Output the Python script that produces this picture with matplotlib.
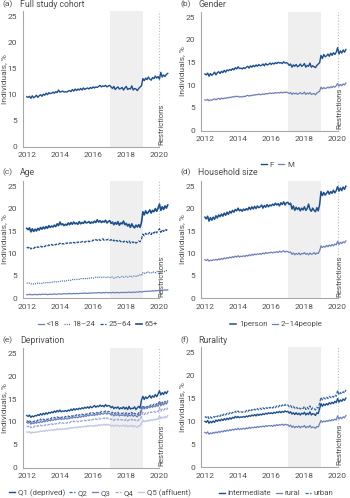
import numpy as np
import matplotlib.pyplot as plt

plt.rcParams['font.family'] = ['Liberation Sans Narrow', 'Roboto', 'DejaVu Sans']

# monthly series, Jan 2012 .. Jul 2020 (one row per year)
cohort = [9.6, 9.5, 9.7, 9.3, 9.8, 9.4, 9.6, 9.9, 9.5, 9.8, 10.0, 9.7,
          10.1, 9.9, 10.3, 10.0, 10.4, 10.2, 10.3, 10.5, 10.3, 10.6, 10.4, 10.9,
          10.5, 10.6, 10.7, 10.5, 10.6, 10.5, 10.7, 10.8, 10.6, 11.0, 10.7, 11.1,
          10.8, 11.1, 10.9, 11.2, 10.9, 11.3, 11.0, 11.2, 11.3, 11.1, 11.4, 11.2,
          11.5, 11.3, 11.5, 11.4, 11.6, 11.8, 11.5, 11.7, 11.6, 11.8, 11.5, 11.7,
          11.8, 11.5, 11.2, 11.6, 11.0, 11.3, 11.5, 11.1, 11.2, 11.4, 10.9, 11.3,
          11.6, 11.0, 11.2, 11.1, 11.7, 10.9, 11.2, 11.1, 10.8, 11.2, 11.5, 11.7,
          13.1, 12.7, 13.2, 12.9, 13.4, 13.0, 12.8, 13.3, 13.1, 13.6, 13.2, 13.5,
          13.0, 14.3, 13.4, 13.8, 13.5, 13.9, 14.1]

female = [12.5, 12.3, 12.7, 12.0, 12.6, 12.2, 12.5, 12.9, 12.3, 12.8, 13.0, 12.6,
          13.1, 12.8, 13.3, 12.9, 13.4, 13.2, 13.5, 13.3, 13.7, 13.4, 13.9, 13.6,
          14.1, 13.7, 13.8, 13.6, 13.9, 13.7, 14.0, 14.2, 13.8, 14.3, 14.0, 14.4,
          14.1, 14.5, 14.2, 14.6, 14.3, 14.4, 14.7, 14.3, 14.8, 14.5, 14.6, 14.9,
          14.6, 14.9, 14.7, 15.0, 14.8, 15.1, 14.9, 15.0, 14.8, 15.2, 14.9, 15.0,
          14.8, 14.4, 14.7, 14.0, 14.5, 14.2, 14.6, 14.1, 14.3, 14.7, 14.2, 14.4,
          14.8, 14.0, 14.4, 14.2, 14.9, 14.0, 14.3, 14.1, 13.9, 14.4, 14.7, 15.0,
          16.6, 15.9, 16.8, 16.3, 16.5, 16.9, 16.4, 17.1, 16.6, 17.2, 16.8, 17.3,
          18.3, 16.9, 17.6, 17.1, 17.8, 17.3, 17.9]

male = [6.8, 6.7, 6.9, 6.6, 6.8, 6.7, 6.9, 7.0, 6.8, 7.0, 7.1, 6.9,
        7.2, 7.0, 7.2, 7.1, 7.3, 7.2, 7.4, 7.3, 7.5, 7.4, 7.6, 7.5,
        7.6, 7.4, 7.5, 7.4, 7.6, 7.5, 7.7, 7.8, 7.6, 7.8, 7.7, 7.9,
        7.8, 8.0, 7.9, 8.1, 7.9, 8.0, 8.1, 8.0, 8.2, 8.1, 8.2, 8.3,
        8.2, 8.3, 8.2, 8.4, 8.3, 8.4, 8.3, 8.5, 8.3, 8.5, 8.4, 8.5,
        8.4, 8.2, 8.4, 8.0, 8.3, 8.1, 8.3, 8.0, 8.2, 8.4, 8.1, 8.2,
        8.5, 8.0, 8.3, 8.1, 8.4, 8.0, 8.1, 8.2, 7.9, 8.3, 8.5, 8.7,
        9.6, 9.2, 9.5, 9.3, 9.4, 9.6, 9.4, 9.7, 9.5, 9.8, 9.6, 9.9,
        10.4, 9.8, 10.2, 9.9, 10.3, 10.1, 10.5]

age_u18 = [0.8, 0.8, 0.9, 0.8, 0.8, 0.8, 0.9, 0.8, 0.8, 0.9, 0.8, 0.9,
           0.9, 0.9, 0.9, 0.8, 0.9, 0.9, 0.9, 0.9, 1.0, 0.9, 0.9, 1.0,
           1.0, 0.9, 1.0, 1.0, 1.0, 1.0, 1.0, 1.1, 1.0, 1.0, 1.1, 1.0,
           1.1, 1.0, 1.1, 1.1, 1.1, 1.1, 1.2, 1.1, 1.1, 1.2, 1.1, 1.2,
           1.2, 1.2, 1.2, 1.2, 1.3, 1.2, 1.2, 1.3, 1.2, 1.3, 1.3, 1.2,
           1.3, 1.2, 1.3, 1.3, 1.2, 1.3, 1.3, 1.2, 1.3, 1.3, 1.3, 1.3,
           1.3, 1.3, 1.4, 1.3, 1.3, 1.4, 1.3, 1.4, 1.4, 1.4, 1.5, 1.4,
           1.5, 1.5, 1.6, 1.5, 1.6, 1.6, 1.6, 1.7, 1.6, 1.7, 1.7, 1.7,
           1.8, 1.7, 1.8, 1.8, 1.9, 1.8, 1.9]

age_18_24 = [3.4, 3.3, 3.4, 3.2, 3.3, 3.2, 3.3, 3.2, 3.4, 3.3, 3.4, 3.3,
             3.5, 3.4, 3.5, 3.4, 3.6, 3.5, 3.6, 3.5, 3.7, 3.6, 3.8, 3.7,
             3.8, 3.7, 3.9, 3.8, 4.0, 3.9, 4.0, 4.1, 4.0, 4.2, 4.1, 4.2,
             4.2, 4.3, 4.2, 4.4, 4.3, 4.4, 4.3, 4.5, 4.4, 4.5, 4.4, 4.6,
             4.5, 4.6, 4.7, 4.6, 4.8, 4.7, 4.6, 4.8, 4.7, 4.6, 4.8, 4.7,
             4.6, 4.8, 4.7, 4.5, 4.7, 4.6, 4.8, 4.6, 4.7, 4.9, 4.7, 4.8,
             4.9, 4.7, 4.8, 5.0, 4.8, 4.9, 5.0, 4.9, 5.1, 5.0, 5.2, 5.1,
             5.7, 5.5, 5.8, 5.6, 5.9, 5.7, 5.8, 5.6, 5.9, 5.7, 6.0, 5.8,
             6.0, 5.8, 6.1, 5.9, 6.0, 6.2, 6.1]

age_25_64 = [11.4, 11.2, 11.5, 11.0, 11.3, 11.1, 11.4, 11.2, 11.5, 11.3, 11.6, 11.4,
             11.7, 11.5, 11.8, 11.6, 11.9, 11.7, 12.0, 11.8, 12.1, 11.9, 12.2, 12.0,
             12.3, 12.0, 12.2, 12.1, 12.4, 12.2, 12.5, 12.3, 12.4, 12.2, 12.5, 12.3,
             12.6, 12.4, 12.7, 12.5, 12.6, 12.8, 12.5, 12.7, 12.9, 12.6, 12.8, 12.7,
             13.0, 12.8, 13.1, 12.9, 13.2, 12.9, 13.0, 13.3, 12.9, 13.1, 13.0, 13.2,
             12.9, 13.1, 12.7, 13.0, 12.6, 12.9, 12.7, 13.0, 12.6, 12.8, 12.5, 12.9,
             12.7, 12.4, 12.8, 12.3, 12.6, 12.4, 12.7, 12.3, 12.5, 12.8, 12.6, 13.2,
             14.3, 13.9, 14.5, 14.1, 14.4, 14.7, 14.2, 14.8, 14.5, 15.0, 14.6, 15.1,
             15.5, 14.7, 15.3, 14.9, 15.4, 15.1, 15.6]

age_65 = [15.6, 15.3, 15.7, 14.8, 15.5, 14.9, 15.4, 15.0, 15.6, 15.2, 15.8, 15.4,
          15.9, 15.5, 16.0, 15.6, 16.2, 15.8, 16.1, 15.9, 16.3, 16.0, 16.6, 16.2,
          17.0, 16.4, 16.6, 16.2, 16.5, 16.3, 16.8, 16.4, 16.9, 16.5, 17.0, 16.6,
          16.8, 16.5, 17.1, 16.6, 16.9, 16.7, 17.2, 16.8, 16.9, 17.1, 16.7, 17.0,
          16.8, 17.2, 16.9, 17.5, 17.0, 17.3, 16.9, 17.2, 17.0, 17.4, 16.8, 17.1,
          17.3, 16.7, 17.0, 16.4, 16.9, 16.5, 17.1, 16.3, 16.8, 16.6, 17.2, 16.4,
          16.7, 16.1, 16.5, 15.8, 16.6, 16.0, 15.7, 16.3, 15.9, 16.4, 15.8, 16.9,
          19.3, 18.6, 19.5, 18.9, 19.2, 19.7, 19.0, 19.6, 19.3, 20.0, 19.4, 20.1,
          21.0, 19.6, 20.4, 19.8, 20.6, 20.1, 20.8]

hh_1 = [18.1, 17.7, 18.3, 17.2, 18.0, 17.4, 18.1, 17.6, 18.4, 17.9, 18.6, 18.2,
        18.8, 18.3, 19.0, 18.5, 19.2, 18.7, 19.4, 19.0, 19.6, 19.2, 19.8, 19.5,
        20.1, 19.5, 19.8, 19.4, 19.9, 19.6, 20.0, 19.7, 20.3, 19.8, 20.4, 19.9,
        20.5, 20.0, 20.6, 20.2, 20.4, 20.8, 20.1, 20.7, 20.3, 20.9, 20.4, 20.8,
        20.6, 21.0, 20.7, 21.2, 20.8, 21.1, 20.6, 21.3, 20.9, 21.5, 20.8, 21.3,
        21.4, 20.9, 21.2, 19.9, 20.6, 19.6, 20.3, 19.8, 20.2, 19.5, 20.1, 19.7,
        20.4, 19.6, 20.0, 21.0, 19.8, 19.4, 20.1, 19.6, 19.3, 20.2, 19.5, 20.9,
        23.8, 22.9, 23.6, 23.0, 23.4, 23.9, 23.2, 23.8, 23.4, 24.1, 23.5, 24.0,
        24.9, 23.9, 24.6, 24.0, 24.8, 24.3, 25.0]

hh_2_14 = [8.6, 8.4, 8.7, 8.3, 8.5, 8.4, 8.6, 8.5, 8.7, 8.5, 8.8, 8.6,
           8.9, 8.7, 9.0, 8.8, 9.1, 8.9, 9.2, 9.0, 9.3, 9.1, 9.4, 9.2,
           9.5, 9.2, 9.4, 9.3, 9.5, 9.3, 9.6, 9.4, 9.7, 9.5, 9.8, 9.6,
           9.9, 9.7, 9.9, 9.8, 10.0, 9.8, 10.1, 9.9, 10.2, 10.0, 10.2, 10.1,
           10.3, 10.1, 10.3, 10.2, 10.4, 10.2, 10.5, 10.3, 10.4, 10.6, 10.3, 10.5,
           10.4, 10.2, 10.3, 9.8, 10.1, 9.7, 10.0, 9.8, 10.1, 9.7, 10.0, 9.9,
           10.2, 9.8, 10.0, 9.7, 10.1, 9.8, 9.9, 10.2, 9.8, 10.1, 10.0, 10.6,
           11.7, 11.3, 11.6, 11.4, 11.8, 11.5, 11.9, 11.6, 12.0, 11.7, 12.1, 11.9,
           12.7, 12.0, 12.5, 12.2, 12.6, 12.4, 12.8]

dep_q1 = [11.4, 11.2, 11.5, 11.0, 11.3, 11.1, 11.4, 11.3, 11.6, 11.4, 11.8, 11.5,
          11.9, 11.6, 12.0, 11.7, 12.1, 11.9, 12.2, 12.0, 12.4, 12.1, 12.5, 12.2,
          12.6, 12.2, 12.4, 12.3, 12.5, 12.3, 12.6, 12.4, 12.8, 12.5, 12.9, 12.6,
          12.9, 12.7, 13.0, 12.8, 13.1, 12.9, 13.2, 13.0, 13.3, 13.0, 13.4, 13.1,
          13.3, 13.6, 13.2, 13.5, 13.3, 13.7, 13.4, 13.6, 13.3, 13.8, 13.4, 13.6,
          13.5, 13.1, 13.4, 12.9, 13.2, 13.0, 13.3, 12.8, 13.1, 12.9, 13.3, 12.8,
          13.2, 12.7, 13.4, 12.8, 13.0, 12.9, 13.3, 12.7, 13.1, 13.4, 13.0, 14.8,
          15.6, 14.9, 15.5, 15.1, 15.4, 15.8, 15.2, 15.7, 15.4, 16.0, 15.5, 16.1,
          16.8, 15.9, 16.4, 16.0, 16.6, 16.2, 16.7]

dep_q2 = [10.3, 10.0, 10.4, 9.9, 10.2, 10.0, 10.3, 10.1, 10.4, 10.2, 10.6, 10.3,
          10.6, 10.4, 10.7, 10.5, 10.8, 10.6, 10.9, 10.7, 11.0, 10.8, 11.1, 10.9,
          11.2, 10.9, 11.1, 10.9, 11.2, 11.0, 11.3, 11.1, 11.4, 11.2, 11.5, 11.3,
          11.6, 11.3, 11.6, 11.4, 11.7, 11.5, 11.8, 11.6, 11.9, 11.7, 12.0, 11.8,
          12.0, 11.8, 12.1, 11.9, 12.2, 12.0, 12.3, 12.1, 12.2, 12.4, 12.1, 12.3,
          12.2, 11.9, 12.1, 11.7, 12.0, 11.8, 12.1, 11.7, 11.9, 11.8, 12.0, 11.7,
          12.0, 11.6, 11.9, 11.7, 12.1, 11.6, 11.9, 11.7, 11.5, 12.0, 11.8, 13.0,
          13.6, 13.1, 13.5, 13.2, 13.6, 13.4, 13.8, 13.5, 13.9, 13.6, 14.0, 13.7,
          14.6, 13.8, 14.3, 14.0, 14.5, 14.2, 14.7]

dep_q3 = [9.9, 9.7, 10.0, 9.5, 9.8, 9.6, 9.9, 9.7, 10.0, 9.8, 10.1, 9.9,
          10.2, 10.0, 10.3, 10.1, 10.4, 10.2, 10.5, 10.3, 10.6, 10.4, 10.7, 10.5,
          10.8, 10.5, 10.7, 10.6, 10.8, 10.6, 10.9, 10.7, 11.0, 10.8, 11.1, 10.9,
          11.1, 10.9, 11.2, 11.0, 11.3, 11.1, 11.4, 11.2, 11.5, 11.3, 11.6, 11.4,
          11.6, 11.4, 11.7, 11.5, 11.8, 11.6, 11.9, 11.7, 11.8, 12.0, 11.7, 11.9,
          11.8, 11.5, 11.7, 11.3, 11.6, 11.4, 11.7, 11.3, 11.5, 11.4, 11.6, 11.3,
          11.6, 11.2, 11.5, 11.3, 11.7, 11.2, 11.5, 11.3, 11.1, 11.6, 11.4, 12.5,
          13.3, 12.8, 13.2, 12.9, 13.3, 13.1, 13.4, 13.2, 13.5, 13.3, 13.7, 13.4,
          14.3, 13.5, 14.0, 13.7, 14.2, 13.9, 14.4]

dep_q4 = [9.1, 8.9, 9.2, 8.7, 9.0, 8.8, 9.1, 8.9, 9.2, 9.0, 9.3, 9.1,
          9.4, 9.2, 9.5, 9.3, 9.5, 9.3, 9.6, 9.4, 9.7, 9.5, 9.8, 9.6,
          9.9, 9.6, 9.8, 9.7, 9.9, 9.7, 10.0, 9.8, 10.1, 9.9, 10.2, 10.0,
          10.2, 10.0, 10.3, 10.1, 10.3, 10.2, 10.4, 10.2, 10.5, 10.3, 10.6, 10.4,
          10.6, 10.4, 10.7, 10.5, 10.8, 10.6, 10.8, 10.7, 10.9, 10.6, 10.9, 10.7,
          10.8, 10.5, 10.7, 10.3, 10.6, 10.4, 10.6, 10.3, 10.5, 10.4, 10.6, 10.3,
          10.6, 10.2, 10.5, 10.3, 10.6, 10.2, 10.5, 10.3, 10.1, 10.5, 10.4, 11.2,
          12.1, 11.6, 12.0, 11.7, 12.1, 11.9, 12.2, 12.0, 12.3, 12.1, 12.4, 12.2,
          13.1, 12.3, 12.8, 12.5, 12.9, 12.6, 13.1]

dep_q5 = [7.8, 7.7, 7.9, 7.5, 7.8, 7.6, 7.8, 7.7, 7.9, 7.8, 8.0, 7.9,
          8.1, 7.9, 8.2, 8.0, 8.2, 8.1, 8.3, 8.1, 8.4, 8.2, 8.5, 8.3,
          8.5, 8.3, 8.5, 8.4, 8.6, 8.4, 8.7, 8.5, 8.8, 8.6, 8.8, 8.7,
          8.9, 8.7, 9.0, 8.8, 9.0, 8.9, 9.1, 8.9, 9.2, 9.0, 9.2, 9.1,
          9.2, 9.0, 9.3, 9.1, 9.4, 9.2, 9.4, 9.3, 9.5, 9.2, 9.5, 9.3,
          9.4, 9.1, 9.3, 9.0, 9.3, 9.1, 9.3, 9.0, 9.2, 9.1, 9.3, 9.0,
          9.3, 8.9, 9.2, 9.0, 9.3, 8.9, 9.2, 9.0, 8.8, 9.2, 9.1, 9.7,
          10.4, 10.0, 10.3, 10.1, 10.4, 10.2, 10.5, 10.3, 10.6, 10.4, 10.7, 10.5,
          11.4, 10.7, 11.1, 10.8, 11.2, 10.9, 11.4]

rur_inter = [10.0, 9.8, 10.2, 9.6, 10.0, 9.7, 10.1, 9.8, 10.3, 10.0, 10.4, 10.1,
             10.5, 10.2, 10.6, 10.3, 10.7, 10.4, 10.8, 10.5, 10.9, 10.7, 11.1, 10.8,
             11.1, 10.8, 11.0, 10.9, 11.1, 10.9, 11.2, 11.0, 11.3, 11.1, 11.4, 11.2,
             11.5, 11.2, 11.6, 11.3, 11.6, 11.4, 11.7, 11.5, 11.8, 11.6, 11.9, 11.7,
             11.9, 11.7, 12.0, 11.8, 12.1, 11.9, 12.2, 11.9, 12.2, 12.0, 12.3, 12.1,
             12.2, 11.8, 12.1, 11.6, 11.9, 11.5, 11.9, 11.5, 11.8, 11.4, 11.8, 11.6,
             12.0, 11.4, 11.8, 11.5, 12.1, 11.4, 11.7, 11.6, 11.3, 11.9, 11.7, 12.8,
             13.9, 13.3, 13.8, 13.5, 13.9, 13.6, 14.1, 13.8, 14.2, 13.9, 14.4, 14.1,
             15.0, 14.2, 14.7, 14.4, 14.9, 14.6, 15.1]

rur_rural = [7.6, 7.4, 7.7, 7.2, 7.5, 7.3, 7.6, 7.4, 7.7, 7.5, 7.8, 7.6,
             7.9, 7.7, 8.0, 7.8, 8.1, 7.9, 8.2, 8.0, 8.3, 8.1, 8.4, 8.2,
             8.5, 8.2, 8.4, 8.3, 8.5, 8.3, 8.6, 8.4, 8.7, 8.5, 8.7, 8.6,
             8.8, 8.6, 8.9, 8.7, 8.9, 8.8, 9.0, 8.8, 9.1, 8.9, 9.1, 9.0,
             9.1, 8.9, 9.2, 9.0, 9.3, 9.1, 9.3, 9.2, 9.4, 9.1, 9.4, 9.2,
             9.3, 8.9, 9.2, 8.7, 9.0, 8.6, 8.9, 8.7, 9.0, 8.6, 8.9, 8.8,
             9.1, 8.6, 8.9, 8.7, 9.1, 8.6, 8.8, 8.7, 8.5, 8.9, 8.8, 9.5,
             10.2, 9.8, 10.1, 9.9, 10.2, 10.0, 10.3, 10.1, 10.4, 10.2, 10.5, 10.3,
             11.2, 10.5, 10.9, 10.6, 11.0, 10.8, 11.3]

rur_urban = [11.1, 10.8, 11.2, 10.6, 11.0, 10.7, 11.1, 10.9, 11.3, 11.0, 11.4, 11.1,
             11.6, 11.3, 11.7, 11.4, 11.8, 11.5, 11.9, 11.6, 12.0, 11.8, 12.2, 11.9,
             12.3, 11.9, 12.1, 12.0, 12.2, 12.0, 12.4, 12.1, 12.5, 12.2, 12.6, 12.3,
             12.7, 12.4, 12.8, 12.5, 12.9, 12.6, 13.0, 12.7, 13.1, 12.8, 13.2, 12.9,
             13.2, 12.9, 13.3, 13.0, 13.4, 13.1, 13.5, 13.2, 13.6, 13.3, 13.7, 13.4,
             13.6, 13.2, 13.5, 13.0, 13.3, 12.9, 13.2, 12.8, 13.1, 12.7, 13.0, 12.8,
             13.3, 12.6, 13.1, 12.7, 13.4, 12.6, 13.0, 12.8, 12.5, 13.1, 12.9, 14.0,
             15.3, 14.7, 15.2, 14.9, 15.3, 15.0, 15.5, 15.2, 15.6, 15.3, 15.8, 15.5,
             16.8, 15.8, 16.3, 16.0, 16.5, 16.2, 16.9]

months = 2012 + np.arange(len(cohort)) / 12

DARK = '#1c4f8c'
MID = '#3a67a6'
LIGHT = '#6d7fb9'
PALE = '#98a7d3'
FAINT = '#bcc5e4'
GREY = '#505050'
FS = 6.0

fig = plt.figure(figsize=(3.5, 4.98), dpi=100)


def setup(rect, tag, title, tag_y):
    ax = fig.add_axes(rect)
    ax.set_xlim(2011.76, 2020.6)
    ax.set_ylim(0, 26.2)
    ax.axvspan(2017, 2019, color='#efefef', lw=0, zorder=0)
    ax.axvline(2020, color='#bdbdbd', lw=0.8, ls=(0, (1, 1.6)), zorder=1)
    ax.text(2020.1, 0.4, 'Restrictions', rotation=90, ha='center', va='bottom',
            fontsize=FS - 0.3, color=GREY)
    for s in ['top', 'right']:
        ax.spines[s].set_visible(False)
    for s in ['left', 'bottom']:
        ax.spines[s].set_color('#a8a8a8')
        ax.spines[s].set_linewidth(0.8)
    ax.spines['bottom'].set_bounds(2011.76, 2020)
    ax.set_xticks([2012, 2014, 2016, 2018, 2020])
    ax.set_yticks([0, 5, 10, 15, 20, 25])
    ax.tick_params(length=0, labelsize=FS, colors=GREY)
    ax.tick_params(axis='y', pad=4)
    ax.tick_params(axis='x', pad=4)
    ax.set_ylabel('Individuals, %', fontsize=FS, color=GREY)
    ax.yaxis.set_label_coords(-0.108, 0.5)
    x0 = rect[0]
    fig.text(x0 - 0.058, tag_y, tag, fontsize=FS, color=GREY, va='center')
    fig.text(x0 - 0.008, tag_y, title, fontsize=FS + 0.3, color=GREY, va='center')
    return ax


def legend(ax, x, y, spacing=0.55):
    fig.legend(*ax.get_legend_handles_labels(), loc='center', bbox_to_anchor=(x, y),
               ncol=6, frameon=False, fontsize=FS - 0.3, labelcolor=GREY,
               handlelength=0.75, handletextpad=0.35, columnspacing=spacing,
               borderpad=0, borderaxespad=0)


LX, RX, W = 0.065, 0.574, 0.419

# (a)
ax = setup([LX, 0.7054, W, 0.2735], '(a)', 'Full study cohort', 0.991)
ax.plot(months, cohort, color=DARK, lw=1.0)

# (b)
ax = setup([RX, 0.7376, W, 0.2386], '(b)', 'Gender', 0.991)
ax.plot(months, female, color=DARK, lw=1.0, label='F')
ax.plot(months, male, color=LIGHT, lw=0.9, label='M')
legend(ax, 0.793, 1 - 165 / 498)

# (c)
ax = setup([LX, 0.401, W, 0.236], '(c)', 'Age', 1 - 172 / 498)
ax.plot(months, age_u18, color=LIGHT, lw=0.9, label='<18')
ax.plot(months, age_18_24, color=MID, lw=0.9, ls=(0, (0.8, 1.0)), label='18\u201324')
ax.plot(months, age_25_64, color=DARK, lw=0.9, ls=(0, (2.5, 1.2)), label='25\u201364')
ax.plot(months, age_65, color=DARK, lw=1.2, label='65+')
legend(ax, 0.28, 1 - 324 / 498)

# (d)
ax = setup([RX, 0.401, W, 0.236], '(d)', 'Household size', 1 - 172 / 498)
ax.plot(months, hh_1, color=DARK, lw=1.1, label='1person')
ax.plot(months, hh_2_14, color=LIGHT, lw=0.9, label='2\u201314people')
legend(ax, 0.79, 1 - 324 / 498)

# (e)
ax = setup([LX, 0.061, W, 0.2405], '(e)', 'Deprivation', 1 - 340 / 498)
ax.plot(months, dep_q1, color=DARK, lw=1.0, label='Q1 (deprived)')
ax.plot(months, dep_q2, color=MID, lw=0.9, ls=(0, (2.5, 1.2)), label='Q2')
ax.plot(months, dep_q3, color=LIGHT, lw=0.9, label='Q3')
ax.plot(months, dep_q4, color=PALE, lw=0.9, ls=(0, (2.5, 1.2)), label='Q4')
ax.plot(months, dep_q5, color=FAINT, lw=0.9, label='Q5 (affluent)')
legend(ax, 0.285, 1 - 493 / 498)

# (f)
ax = setup([RX, 0.062, W, 0.2405], '(f)', 'Rurality', 1 - 340 / 498)
ax.plot(months, rur_inter, color=DARK, lw=1.0, label='intermediate')
ax.plot(months, rur_rural, color=LIGHT, lw=0.9, label='rural')
ax.plot(months, rur_urban, color=MID, lw=0.9, ls=(0, (2.5, 1.2)), label='urban')
legend(ax, 0.789, 1 - 493 / 498)

fig.savefig('out.png', dpi=100)
